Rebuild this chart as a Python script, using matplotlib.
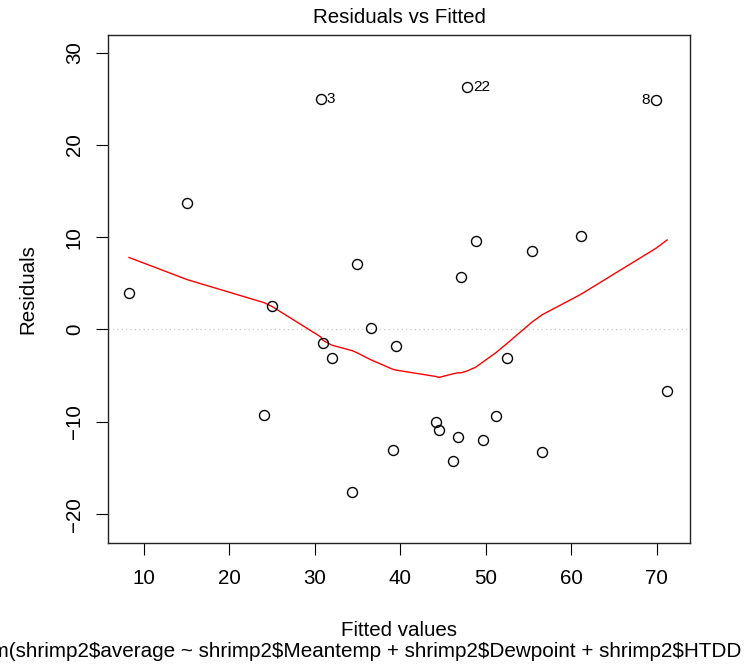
import matplotlib
matplotlib.use("Agg")
import matplotlib.pyplot as plt

plt.rcParams['font.family'] = ['Liberation Sans', 'DejaVu Sans']

# Fitted values and residuals
fitted = [8.3, 15.1, 24.1, 25.0, 30.7, 31.0, 32.0, 34.4, 34.9, 36.6, 39.1, 39.5,
          44.2, 44.5, 46.2, 46.7, 47.1, 47.8, 48.8, 49.7, 51.2, 52.5, 55.4, 56.6,
          61.1, 69.9, 71.2]
residuals = [4.0, 13.7, -9.3, 2.5, 25.0, -1.5, -3.1, -17.6, 7.1, 0.2, -13.1, -1.8,
             -10.0, -10.9, -14.2, -11.7, 5.7, 26.3, 9.6, -12.0, -9.4, -3.1, 8.5, -13.3,
             10.1, 24.9, -6.7]
# lowess smoother evaluated at the (sorted) fitted values
smooth = [7.8, 5.4, 2.9, 2.5, -0.8, -1.2, -1.7, -2.3, -2.5, -3.3, -4.3, -4.4,
          -5.1, -5.2, -4.8, -4.7, -4.7, -4.5, -4.1, -3.5, -2.5, -1.5, 0.8, 1.6,
          3.8, 8.8, 9.7]
# labelled extreme observations: (index in arrays, id label, side)
id_points = [(4, "3", "right"), (17, "22", "right"), (25, "8", "left")]

xticks = [10, 20, 30, 40, 50, 60, 70]
yticks = [-20, -10, 0, 10, 20, 30]
title = "Residuals vs Fitted"
xlabel = "Fitted values"
ylabel = "Residuals"
subcaption = "lm(shrimp2$average ~ shrimp2$Meantemp + shrimp2$Dewpoint + shrimp2$HTDD"

FS = 14.8
W, H = 745, 667
fig = plt.figure(figsize=(W / 100, H / 100), dpi=100)
L, R, T, B = 108.3, 690.0, 35.0, 542.7
ax = fig.add_axes([L / W, 1 - B / H, (R - L) / W, (B - T) / H])

ax.axhline(0, color='#c8c8c8', linestyle=(0, (1, 2.5)), linewidth=0.9, zorder=1)
ax.plot(fitted, smooth, color='red', linewidth=1.0, zorder=2)
ax.plot(fitted, residuals, linestyle='none', marker='o', markersize=7.2,
        markerfacecolor='none', markeredgecolor='black', markeredgewidth=1.0, zorder=3)

for i, lab, side in id_points:
    if side == "right":
        ax.annotate(lab, (fitted[i], residuals[i]), xytext=(4.5, 0), textcoords='offset points',
                    ha='left', va='center', fontsize=FS * 0.75)
    else:
        ax.annotate(lab, (fitted[i], residuals[i]), xytext=(-4.5, 0), textcoords='offset points',
                    ha='right', va='center', fontsize=FS * 0.75)

ax.set_xlim(5.88, 73.87)
ax.set_ylim(-23.1, 31.9)
ax.set_xticks(xticks)
ax.set_yticks(yticks)
ax.set_xticklabels([str(v) for v in xticks])
ax.set_yticklabels([str(v).replace('-', '\u2212') for v in yticks])
ax.tick_params(axis='both', direction='out', length=8.6, width=0.8, labelsize=FS,
               color='black')
ax.tick_params(axis='x', pad=10)
ax.tick_params(axis='y', pad=9)
for lbl in ax.get_yticklabels():
    lbl.set_rotation(90)
    lbl.set_va('center')
for s in ax.spines.values():
    s.set_linewidth(1.0)
    s.set_color('#222222')

cx = (L + R) / 2 / W
fig.text(cx, 1 - 23.3 / H, title, ha='center', va='baseline', fontsize=FS)
fig.text(cx, 1 - 636 / H, xlabel, ha='center', va='baseline', fontsize=FS)
fig.text(33 / W, 1 - (T + B) / 2 / H, ylabel, rotation=90, rotation_mode='anchor',
         ha='center', va='baseline', fontsize=FS)
# caption runs past both figure edges, as in the reference
fig.text(741 / W, 1 - 657 / H, subcaption, ha='right', va='baseline', fontsize=14.9,
         parse_math=False)

fig.savefig("out.png", dpi=100)
